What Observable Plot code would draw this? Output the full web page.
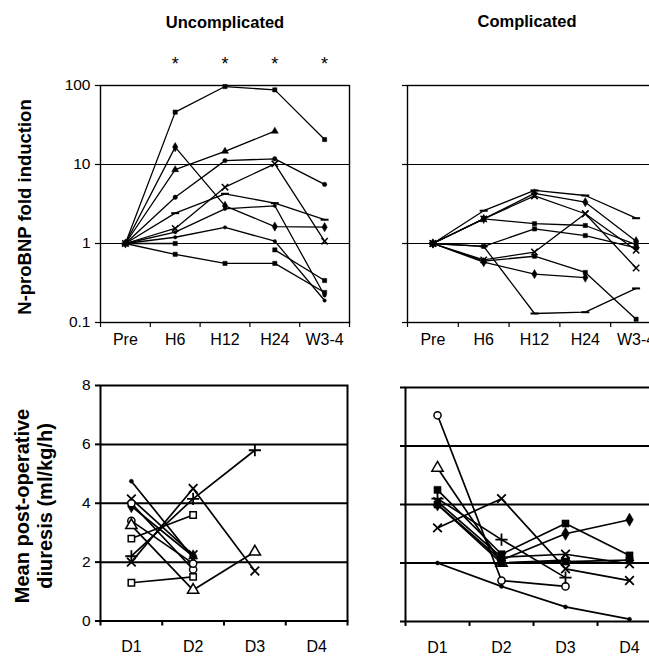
<!DOCTYPE html>
<html><head><meta charset="utf-8">
<script src="https://cdn.jsdelivr.net/npm/d3@7"></script>
<script src="https://cdn.jsdelivr.net/npm/@observablehq/plot@0.6"></script>
<style>
body{margin:0;background:#fff;font-family:"Liberation Sans",Arial,sans-serif;color:#000;}
#fig{position:relative;width:649px;height:661px;overflow:hidden;background:#fff;}
.abs{position:absolute;white-space:nowrap;}
.title{font-weight:bold;font-size:16.5px;transform:translate(-50%,-50%);}
.ylab{font-weight:bold;transform:translate(-50%,-50%) rotate(-90deg);}
svg{position:absolute;overflow:visible;}
</style></head><body><div id="fig"></div><script>
// ---------- categories & ticks ----------
const timepoints = ["Pre", "H6", "H12", "H24", "W3-4"];
const days = ["D1", "D2", "D3", "D4"];
const significance = ["", "*", "*", "*", "*"];
const foldTicks = [0.1, 1, 10, 100];
const foldGrid = [1, 10];
const diuresisTicks = [0, 2, 4, 6, 8];
const diuresisGrid = [2, 4, 6];

// ---------- N-proBNP fold induction, uncomplicated ----------
const uncFoldA = [1, 46, 97, 88, 20.7];
const uncFoldB = [1, 8.6, 14.7, 26.4, null];
const uncFoldC = [1, 16.6, 3.0, 1.64, 1.61];
const uncFoldD = [1, 3.85, 11.2, 11.8, 5.6];
const uncFoldE = [1, 2.42, 4.26, 3.24, 2.0];
const uncFoldF = [1, 1.55, 5.16, 10.2, 1.07];
const uncFoldG = [1, 1.39, 2.75, 3.0, 0.22];
const uncFoldH = [1, 1.2, 1.6, 1.07, 0.19];
const uncFoldI = [1, 1.0, null, 0.83, 0.34];
const uncFoldJ = [1, 0.73, 0.56, 0.56, 0.24];

// ---------- N-proBNP fold induction, complicated ----------
const comFoldA = [1, 2.6, 4.7, 4.05, 2.09];
const comFoldB = [1, 2.05, 4.3, 3.33, 1.07];
const comFoldC = [1, 2.05, 4.0, 2.38, 0.82];
const comFoldD = [1, 2.05, 1.78, 1.69, 0.97];
const comFoldE = [1, 0.92, 1.53, 1.26, 0.88];
const comFoldF = [1, 0.92, 0.13, 0.135, 0.27];
const comFoldG = [1, 0.62, 0.78, 2.38, 0.49];
const comFoldH = [1, 0.6, 0.69, 0.43, 0.11];
const comFoldI = [1, 0.58, 0.41, 0.37, null];

// ---------- Mean post-operative diuresis, uncomplicated ----------
const uncDiuA = [4.75, 2.15, null, null];
const uncDiuB = [4.15, 2.25, null, null];
const uncDiuC = [3.9, 2.2, null, null];
const uncDiuD = [4.0, 1.75, null, null];
const uncDiuE = [3.4, 1.95, null, null];
const uncDiuF = [3.25, 1.05, 2.35, null];
const uncDiuG = [2.8, 3.6, null, null];
const uncDiuH = [2.2, 4.15, 5.8, null];
const uncDiuI = [2.0, 4.5, 1.7, null];
const uncDiuJ = [1.3, 1.5, null, null];

// ---------- Mean post-operative diuresis, complicated ----------
const comDiuA = [7.05, 1.4, 1.2, null];
const comDiuB = [5.25, 2.0, 2.1, null];
const comDiuC = [4.5, 2.3, 3.35, 2.26];
const comDiuD = [4.2, 2.8, 1.5, null];
const comDiuE = [3.2, 4.2, 1.8, 1.4];
const comDiuF = [4.0, 2.1, 3.0, 3.48];
const comDiuG = [4.1, 2.2, 2.3, 1.97];
const comDiuH = [4.0, 2.0, 2.05, 2.1];
const comDiuI = [2.0, 1.2, 0.5, 0.08];

// ---------- marker styles ----------
const dash = {draw(ctx, size) { const w = Math.sqrt(size) * 0.75; ctx.moveTo(-w, 0); ctx.lineTo(w, 0); }};
const styleMap = {
  fsquare: {symbol: "square", fill: "black", stroke: "black", r: 2.4, strokeWidth: 0.5},
  ftriangle: {symbol: "triangle", fill: "black", stroke: "black", r: 2.6, strokeWidth: 0.5},
  fdiamond: {symbol: "diamond", fill: "black", stroke: "black", r: 2.8, strokeWidth: 0.5},
  fcircle: {symbol: "circle", fill: "black", stroke: "black", r: 2.2, strokeWidth: 0.5},
  fdot: {symbol: "circle", fill: "black", stroke: "black", r: 1.7, strokeWidth: 0.5},
  ftimes: {symbol: "times", fill: "none", stroke: "black", r: 3, strokeWidth: 1.5},
  fdash: {symbol: dash, fill: "none", stroke: "black", r: 3, strokeWidth: 2},
  ocircle: {symbol: "circle", fill: "white", stroke: "black", r: 3.6, strokeWidth: 1.5},
  osquare: {symbol: "square", fill: "white", stroke: "black", r: 3.6, strokeWidth: 1.5},
  otriangle: {symbol: "triangle", fill: "white", stroke: "black", r: 4.2, strokeWidth: 1.5},
  otimes: {symbol: "times", fill: "none", stroke: "black", r: 4, strokeWidth: 1.8},
  oplus: {symbol: "plus", fill: "none", stroke: "black", r: 4, strokeWidth: 1.8},
  bdiamond: {symbol: "diamond", fill: "black", stroke: "black", r: 4, strokeWidth: 0.5},
  bsquare: {symbol: "square", fill: "black", stroke: "black", r: 4, strokeWidth: 0.5},
  bdot: {symbol: "circle", fill: "black", stroke: "black", r: 2, strokeWidth: 0.5}
};

const panels = [
  {key: "uncFold", cats: timepoints, log: true,
   series: [[uncFoldA,"fsquare"],[uncFoldB,"ftriangle"],[uncFoldC,"fdiamond"],[uncFoldD,"fcircle"],[uncFoldE,"fdash"],
            [uncFoldF,"ftimes"],[uncFoldG,"fdot"],[uncFoldH,"fdot"],[uncFoldI,"fsquare"],[uncFoldJ,"fsquare"]],
   left: 0, top: 60, width: 360, height: 300, ml: 100, mr: 11, mt: 25, mb: 38, labels: true, sig: true},
  {key: "comFold", cats: timepoints, log: true,
   series: [[comFoldA,"fdash"],[comFoldB,"fdiamond"],[comFoldC,"ftimes"],[comFoldD,"fsquare"],[comFoldE,"fsquare"],
            [comFoldF,"fdash"],[comFoldG,"ftimes"],[comFoldH,"fsquare"],[comFoldI,"fdiamond"]],
   left: 360, top: 60, width: 310, height: 300, ml: 47, mr: 9, mt: 25, mb: 38, labels: false, sig: false},
  {key: "uncDiu", cats: days, log: false,
   series: [[uncDiuA,"bdot"],[uncDiuB,"otimes"],[uncDiuC,"bdiamond"],[uncDiuD,"ocircle"],[uncDiuE,"ocircle"],
            [uncDiuF,"otriangle"],[uncDiuG,"osquare"],[uncDiuH,"oplus"],[uncDiuI,"otimes"],[uncDiuJ,"osquare"]],
   left: 0, top: 360, width: 360, height: 301, ml: 100, mr: 13, mt: 25, mb: 40.5, labels: true, sig: false},
  {key: "comDiu", cats: days, log: false,
   series: [[comDiuA,"ocircle"],[comDiuB,"otriangle"],[comDiuC,"bsquare"],[comDiuD,"oplus"],[comDiuE,"otimes"],
            [comDiuF,"bdiamond"],[comDiuG,"otimes"],[comDiuH,"bsquare"],[comDiuI,"bdot"]],
   left: 360, top: 360, width: 310, height: 301, ml: 45, mr: 9, mt: 27, mb: 40, labels: false, sig: false}
];

const fig = document.getElementById("fig");

for (const p of panels) {
  const n = p.cats.length;
  const marks = [];
  const yTicks = p.log ? foldTicks : diuresisTicks;
  const grid = p.log ? foldGrid : diuresisGrid;
  marks.push(Plot.ruleY(grid, {stroke: "black", strokeWidth: p.log ? 1.1 : 2}));
  marks.push(Plot.frame({stroke: "black", strokeWidth: p.log ? 1.4 : 2}));
  marks.push(Plot.axisY({ticks: yTicks, tickSize: 5, tickPadding: 5, fontSize: 15.5, label: null,
                         strokeWidth: p.log ? 1.2 : 2,
                         tickFormat: p.labels ? (d => String(d)) : (() => "")}));
  marks.push(Plot.axisX({ticks: d3.range(n + 1), tickSize: 5, label: null, tickFormat: () => "",
                         strokeWidth: p.log ? 1.2 : 2}));
  marks.push(Plot.axisX({ticks: p.cats.map((_, i) => i + 0.5), tickSize: 0, label: null, fontSize: 16,
                         tickPadding: p.log ? 11 : 20, tickFormat: v => p.cats[Math.floor(v)]}));
  p.series.forEach(([vals, st]) => {
    const data = vals.map((v, i) => ({x: i + 0.5, v}));
    marks.push(Plot.line(data, {x: "x", y: "v", stroke: "black", strokeWidth: p.log ? 1.3 : 1.7}));
  });
  p.series.forEach(([vals, st]) => {
    const data = vals.map((v, i) => ({x: i + 0.5, v})).filter(d => d.v != null);
    marks.push(Plot.dot(data, {x: "x", y: "v", ...styleMap[st]}));
  });
  if (p.sig) {
    marks.push(Plot.text(significance, {x: (d, i) => i + 0.5, text: d => d, frameAnchor: "top", dy: -28, fontSize: 18}));
  }
  const svg = Plot.plot({
    width: p.width, height: p.height,
    marginLeft: p.ml, marginRight: p.mr, marginTop: p.mt, marginBottom: p.mb,
    style: {fontFamily: "'Liberation Sans', Arial, sans-serif", fontSize: "15px", color: "black", background: "transparent"},
    x: {domain: [0, n], axis: null},
    y: p.log ? {type: "log", domain: [0.1, 100], axis: null} : {domain: [0, 8], axis: null},
    marks
  });
  svg.style.left = p.left + "px";
  svg.style.top = p.top + "px";
  fig.appendChild(svg);
}

function addText(txt, cls, x, y, size) {
  const d = document.createElement("div");
  d.className = "abs " + cls;
  d.style.left = x + "px"; d.style.top = y + "px";
  if (size) d.style.fontSize = size + "px";
  d.textContent = txt;
  fig.appendChild(d);
}
addText("Uncomplicated", "title", 225, 22);
addText("Complicated", "title", 527, 21);
addText("N-proBNP fold induction", "ylab", 25, 207, 18.5);
addText("Mean post-operative", "ylab", 22, 506, 20);
addText("diuresis (ml/kg/h)", "ylab", 45, 506, 20);
</script></body></html>
